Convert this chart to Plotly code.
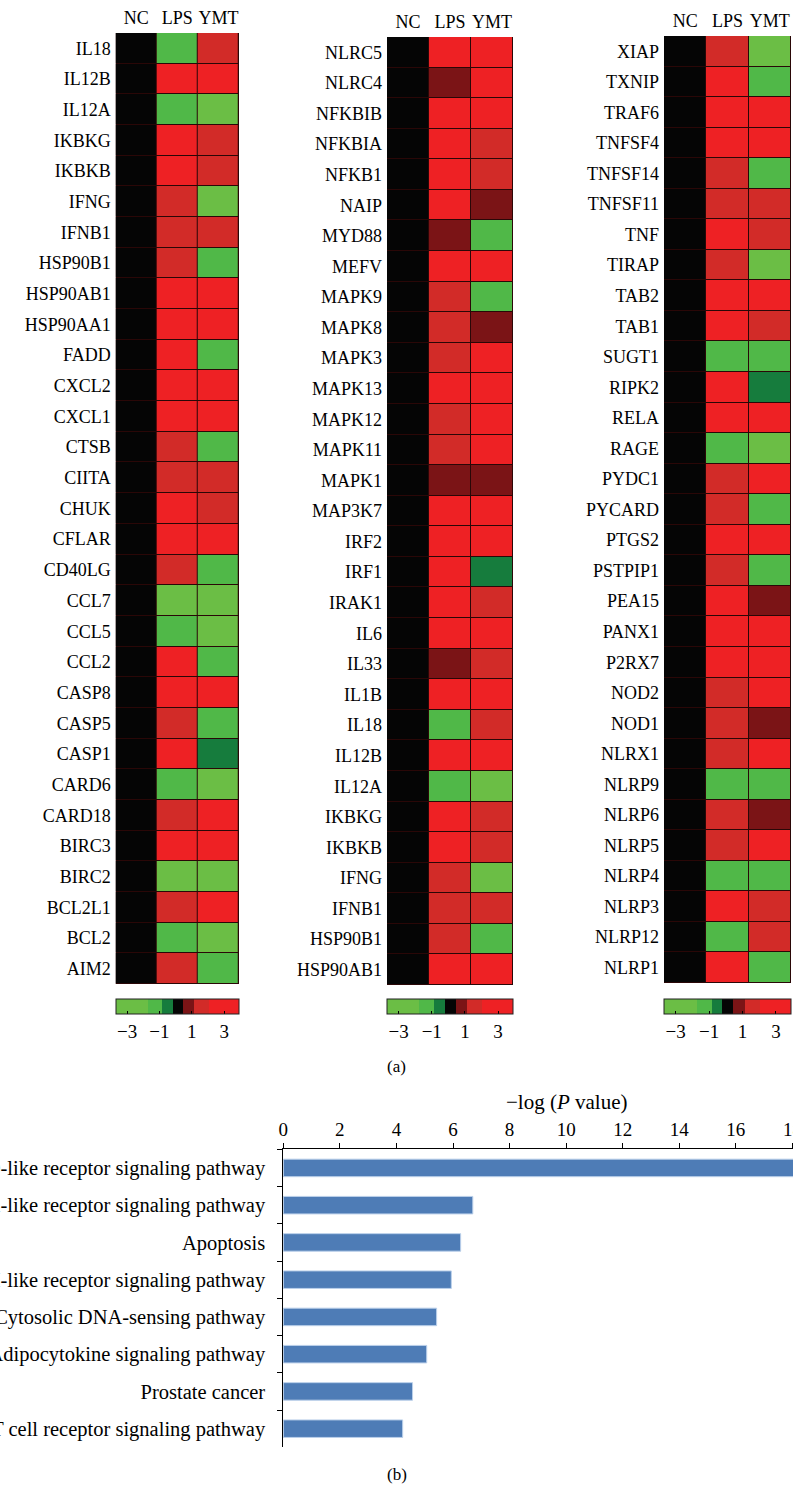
import plotly.graph_objects as go

# ---------------- data ----------------
groups = ["NC", "LPS", "YMT"]

genes_1 = ["IL18", "IL12B", "IL12A", "IKBKG", "IKBKB", "IFNG", "IFNB1", "HSP90B1",
           "HSP90AB1", "HSP90AA1", "FADD", "CXCL2", "CXCL1", "CTSB", "CIITA", "CHUK",
           "CFLAR", "CD40LG", "CCL7", "CCL5", "CCL2", "CASP8", "CASP5", "CASP1",
           "CARD6", "CARD18", "BIRC3", "BIRC2", "BCL2L1", "BCL2", "AIM2"]
lps_1 = [-1.3, 3, -1.3, 3, 3, 1.6, 1.6, 1.6, 3, 3, 3, 3, 3, 1.6, 1.6, 3,
         3, 1.6, -3, -1.3, 3, 3, 1.6, 3, -1.3, 1.6, 3, -3, 1.6, -1.3, 1.6]
ymt_1 = [1.6, 3, -3, 1.6, 1.6, -3, 1.6, -1.3, 3, 3, -1.3, 3, 3, -1.3, 1.6, 1.6,
         3, -1.3, -3, -3, -1.3, 3, -1.3, -0.5, -3, 3, 3, -3, 3, -3, -1.3]

genes_2 = ["NLRC5", "NLRC4", "NFKBIB", "NFKBIA", "NFKB1", "NAIP", "MYD88", "MEFV",
           "MAPK9", "MAPK8", "MAPK3", "MAPK13", "MAPK12", "MAPK11", "MAPK1", "MAP3K7",
           "IRF2", "IRF1", "IRAK1", "IL6", "IL33", "IL1B", "IL18", "IL12B", "IL12A",
           "IKBKG", "IKBKB", "IFNG", "IFNB1", "HSP90B1", "HSP90AB1"]
lps_2 = [3, 0.8, 3, 3, 3, 3, 0.8, 3, 1.6, 1.6, 1.6, 3, 1.6, 1.6, 0.8, 3,
         3, 3, 3, 3, 0.8, 3, -1.3, 3, -1.3, 3, 3, 1.6, 1.6, 1.6, 3]
ymt_2 = [3, 3, 3, 1.6, 1.6, 0.8, -1.3, 3, -1.3, 0.8, 3, 3, 3, 3, 0.8, 3,
         3, -0.5, 1.6, 3, 1.6, 3, 1.6, 3, -3, 1.6, 1.6, -3, 1.6, -1.3, 3]

genes_3 = ["XIAP", "TXNIP", "TRAF6", "TNFSF4", "TNFSF14", "TNFSF11", "TNF", "TIRAP",
           "TAB2", "TAB1", "SUGT1", "RIPK2", "RELA", "RAGE", "PYDC1", "PYCARD",
           "PTGS2", "PSTPIP1", "PEA15", "PANX1", "P2RX7", "NOD2", "NOD1", "NLRX1",
           "NLRP9", "NLRP6", "NLRP5", "NLRP4", "NLRP3", "NLRP12", "NLRP1"]
lps_3 = [1.6, 3, 3, 3, 1.6, 1.6, 3, 1.6, 3, 3, -1.3, 3, 3, -1.3, 1.6, 1.6,
         3, 1.6, 3, 3, 3, 1.6, 1.6, 1.6, -1.3, 1.6, 1.6, -1.3, 3, -1.3, 3]
ymt_3 = [-3, -1.3, 3, 3, -1.3, 1.6, 1.6, -3, 3, 1.6, -1.3, -0.5, 3, -3, 3, -1.3,
         3, -1.3, 0.8, 3, 3, 3, 0.8, 3, -1.3, 0.8, 3, -1.3, 1.6, 1.6, -1.3]

nc_values = [0, 0, 0, 0, 0, 0, 0, 0, 0, 0, 0, 0, 0, 0, 0, 0,
             0, 0, 0, 0, 0, 0, 0, 0, 0, 0, 0, 0, 0, 0, 0]

scale_ticks = [-3, -1, 1, 3]
scale_ticktext = ["\u22123", "\u22121", "1", "3"]

pathways = ["NOD-like receptor signaling pathway",
            "Toll-like receptor signaling pathway",
            "Apoptosis",
            "RIG-I-like receptor signaling pathway",
            "Cytosolic DNA-sensing pathway",
            "Adipocytokine signaling pathway",
            "Prostate cancer",
            "T cell receptor signaling pathway"]
neg_log_p = [18.6, 6.7, 6.27, 5.94, 5.42, 5.07, 4.57, 4.22]
p_ticks = [0, 2, 4, 6, 8, 10, 12, 14, 16, 18]

# ---------------- styling ----------------
W, H = 793, 1488
SERIF = "Liberation Serif"


def dx(a, b):
    return [a / W, min(b / W, 1.0)]


def dy(top, bottom):
    return [1 - bottom / H, 1 - top / H]


ZMIN, ZMAX = -3.7, 3.9
edges = [ZMIN, -1.75, -0.85, -0.2, 0.45, 1.15, 2.05, ZMAX]
step_colors = ["#6BBE45", "#50B848", "#167C3D", "#050505", "#7B1416", "#D22B28", "#EE2124"]
colorscale = []
for i, c in enumerate(step_colors):
    colorscale.append([(edges[i] - ZMIN) / (ZMAX - ZMIN), c])
    colorscale.append([(edges[i + 1] - ZMIN) / (ZMAX - ZMIN), c])

panels = [
    (genes_1, lps_1, ymt_1, (115.7, 239.0), (33, 984)),
    (genes_2, lps_2, ymt_2, (387.0, 513.0), (37, 985)),
    (genes_3, lps_3, ymt_3, (664.0, 791.0), (36, 983)),
]

fig = go.Figure()
layout = dict(
    template="none",
    width=W, height=H, margin=dict(l=0, r=0, t=0, b=0, pad=0, autoexpand=False),
    paper_bgcolor="white", plot_bgcolor="white",
    font=dict(family=SERIF, size=18, color="black"),
    showlegend=False, shapes=[], annotations=[],
)

for k, (genes, lps, ymt, (xa, xb), (ya, yb)) in enumerate(panels, start=1):
    sfx = "" if k == 1 else str(k)
    z = [[nc_values[i], lps[i], ymt[i]] for i in range(len(genes))]
    fig.add_trace(go.Heatmap(
        z=z, x=groups, y=genes, xaxis=f"x{sfx}", yaxis=f"y{sfx}",
        colorscale=colorscale, zmin=ZMIN, zmax=ZMAX, xgap=1, ygap=1,
        hoverinfo="skip", showscale=True,
        colorbar=dict(
            orientation="h", xref="paper", yref="paper",
            x=xa / W, xanchor="left", y=1 - 999 / H, yanchor="top",
            len=xb - xa - 0.5, lenmode="pixels", thickness=15,
            xpad=0, ypad=0, outlinecolor="#222222", outlinewidth=1,
            tickvals=scale_ticks, ticktext=scale_ticktext,
            ticks="inside", ticklen=3, tickcolor="black",
            tickfont=dict(family=SERIF, size=19, color="black"),
        ),
    ))
    layout[f"xaxis{sfx}"] = dict(
        domain=dx(xa, xb), anchor=f"y{sfx}", side="top", type="category",
        ticks="", showgrid=False, showline=False, zeroline=False, automargin=False,
        tickfont=dict(family=SERIF, size=18, color="black"), ticklabelstandoff=4,
    )
    layout[f"yaxis{sfx}"] = dict(
        domain=dy(ya, yb), anchor=f"x{sfx}", type="category", autorange="reversed",
        ticks="", showgrid=False, showline=False, zeroline=False, automargin=False,
        tickfont=dict(family=SERIF, size=18, color="black"), ticklabelstandoff=4,
    )
    layout["shapes"].append(dict(
        type="rect", xref=f"x{sfx} domain", yref=f"y{sfx} domain",
        x0=0, x1=1, y0=0, y1=1, fillcolor="#2A0707", line=dict(width=0), layer="below",
    ))

# bar chart
fig.add_trace(go.Bar(
    x=neg_log_p, y=pathways, orientation="h", xaxis="x4", yaxis="y4",
    marker=dict(color="#4E7CB6", line=dict(color="#BBD0EA", width=1)),
    width=0.47, hoverinfo="skip",
))
layout["xaxis4"] = dict(
    domain=dx(283.3, W), anchor="y4", side="top", range=[0, 18.02],
    tickvals=p_ticks, ticks="outside", ticklen=5, tickcolor="black",
    ticklabeloverflow="allow",
    showline=True, linecolor="black", linewidth=1, showgrid=False, zeroline=False,
    automargin=False, tickfont=dict(family=SERIF, size=19, color="black"),
)
layout["yaxis4"] = dict(
    domain=dy(1149.3, 1447.3), anchor="x4", type="category", autorange="reversed",
    ticks="outside", tickson="boundaries", ticklen=5, tickcolor="black",
    ticklabeloverflow="allow",
    showline=True, linecolor="black", linewidth=1, showgrid=False, zeroline=False,
    automargin=False, tickfont=dict(family=SERIF, size=20.5, color="black"),
    ticklabelstandoff=13,
)

layout["annotations"] += [
    dict(text="\u2212log (<i>P</i> value)", x=566.7 / W, y=1 - 1101.7 / H,
         xref="paper", yref="paper", showarrow=False, xanchor="center", yanchor="middle",
         font=dict(family=SERIF, size=21, color="black")),
    dict(text="(a)", x=0.5, y=1 - 1066 / H, xref="paper", yref="paper",
         showarrow=False, xanchor="center", yanchor="middle",
         font=dict(family=SERIF, size=17, color="black")),
    dict(text="(b)", x=0.5, y=1 - 1474 / H, xref="paper", yref="paper",
         showarrow=False, xanchor="center", yanchor="middle",
         font=dict(family=SERIF, size=17, color="black")),
]

fig.update_layout(**layout)
fig.write_html(
    "out.html",
    config={"displayModeBar": False, "staticPlot": True},
    post_script="document.body.style.margin='0px';document.body.style.overflow='hidden';",
)
